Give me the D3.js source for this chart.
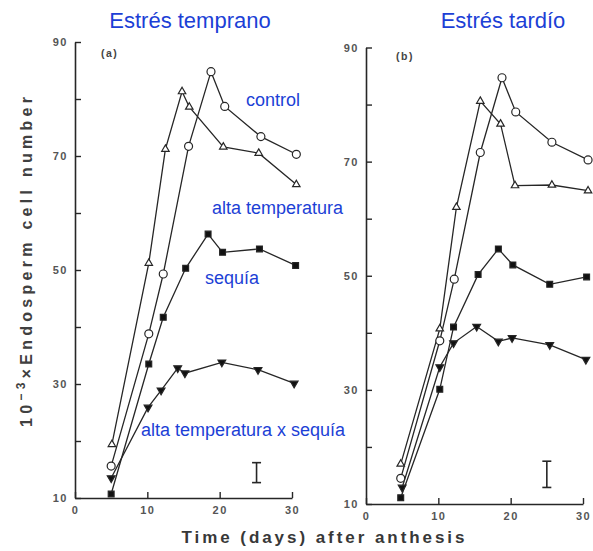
<!DOCTYPE html>
<html>
<head>
<meta charset="utf-8">
<script src="https://cdn.jsdelivr.net/npm/d3@7"></script>
<style>
  html, body { margin: 0; padding: 0; background: #fff; }
  svg { display: block; }
  .tick text { font-family: "Liberation Sans", Arial, sans-serif; font-weight: bold; font-size: 11px; fill: #555; letter-spacing: 1.5px; }
</style>
</head>
<body>
<svg id="chart" width="593" height="551"></svg>
<script>
// Days after anthesis and endosperm cell numbers (x10^3) per treatment.
// Panel (a): early stress; panel (b): late stress.
const dayTicks = [0, 10, 20, 30];
const valueTicks = [10, 20, 30, 40, 50, 60, 70, 80, 90];
const valueLabels = [10, 30, 50, 70, 90];

const earlyControl  = [[5, 15.6], [10.2, 38.8], [12.2, 49.3], [15.7, 71.7], [18.8, 84.8], [20.7, 78.7], [25.7, 73.4], [30.6, 70.3]];
const earlyHeat     = [[5.1, 19.4], [10.2, 51.2], [12.5, 71.2], [14.8, 81.3], [15.8, 78.6], [20.5, 71.6], [25.4, 70.5], [30.6, 65.0]];
const earlyDrought  = [[5, 10.7], [10.2, 33.5], [12.2, 41.7], [15.3, 50.3], [18.4, 56.3], [20.4, 53.1], [25.5, 53.7], [30.5, 50.8]];
const earlyBoth     = [[5, 13.5], [10.1, 25.9], [11.9, 28.9], [14.2, 32.8], [15.2, 31.9], [20.3, 33.8], [25.3, 32.5], [30.3, 30.1]];

const lateControl   = [[4.8, 14.5], [10.2, 38.6], [12.2, 49.4], [15.8, 71.6], [18.8, 84.7], [20.7, 78.7], [25.7, 73.4], [30.7, 70.3]];
const lateHeat      = [[4.8, 17.0], [10.2, 40.7], [12.5, 62.0], [15.8, 80.6], [18.6, 76.6], [20.6, 65.8], [25.7, 65.9], [30.7, 64.9]];
const lateDrought   = [[4.8, 11.1], [10.2, 30.1], [12.1, 41.0], [15.5, 50.2], [18.3, 54.7], [20.3, 51.9], [25.4, 48.5], [30.5, 49.8]];
const lateBoth      = [[5, 12.9], [10.2, 34.0], [12.1, 38.2], [15.3, 41.1], [18.3, 38.5], [20.2, 39.1], [25.4, 37.9], [30.4, 35.3]];

// LSD bars: [day, low, high]
const earlyLsd = [25.1, 12.7, 16.2];
const lateLsd  = [25.0, 12.9, 17.5];

const panelTitles = ["Estrés temprano", "Estrés tardío"];
const panelTags = ["(a)", "(b)"];
const treatmentNames = ["control", "alta temperatura", "sequía", "alta temperatura x sequía"];

const blue = "#1c3fd6";
const ink = "#262626";
const svg = d3.select("#chart");
svg.append("rect").attr("width", 593).attr("height", 551).attr("fill", "#fff");

const panels = [
  { x: [75, 292], y: [498, 42], series: [earlyControl, earlyHeat, earlyDrought, earlyBoth], lsd: earlyLsd,
    title: panelTitles[0], titleX: 190, tag: panelTags[0], tagPos: [101, 57] },
  { x: [366, 583], y: [504, 47.5], series: [lateControl, lateHeat, lateDrought, lateBoth], lsd: lateLsd,
    title: panelTitles[1], titleX: 503, tag: panelTags[1], tagPos: [396, 60] }
];

// marker styles per treatment: circle (open), triangle (open), square (filled), inverted triangle (filled)
const markers = [
  { type: d3.symbolCircle, size: 50, fill: "#fff", rot: 0 },
  { type: d3.symbolTriangle, size: 24, fill: "#fff", rot: 0 },
  { type: d3.symbolSquare, size: 34, fill: "#111", rot: 0 },
  { type: d3.symbolTriangle, size: 26, fill: "#111", rot: 180 }
];

panels.forEach(p => {
  const x = d3.scaleLinear().domain([0, 30]).range(p.x);
  const y = d3.scaleLinear().domain([10, 90]).range(p.y);
  const g = svg.append("g");

  // y axis, ticks pointing inward
  const yAxis = d3.axisLeft(y).tickValues(valueTicks).tickSizeInner(-6).tickSizeOuter(0).tickPadding(7)
    .tickFormat(d => valueLabels.includes(d) ? d : "");
  const ya = g.append("g").attr("transform", `translate(${x(0)},0)`).call(yAxis);
  ya.select(".domain").attr("stroke", ink).attr("stroke-width", 1.6);
  ya.selectAll(".tick line").attr("stroke", ink).attr("stroke-width", 1.4);

  // x axis, ticks pointing upward
  const xAxis = d3.axisBottom(x).tickValues(dayTicks).tickSizeInner(-6).tickSizeOuter(0).tickPadding(8);
  const xa = g.append("g").attr("transform", `translate(0,${y(10)})`).call(xAxis);
  xa.select(".domain").attr("stroke", ink).attr("stroke-width", 1.6);
  xa.selectAll(".tick line").attr("stroke", ink).attr("stroke-width", 1.4);

  const line = d3.line().x(d => x(d[0])).y(d => y(d[1]));
  p.series.forEach(s => {
    g.append("path").datum(s).attr("d", line)
      .attr("fill", "none").attr("stroke", ink).attr("stroke-width", 1.3);
  });
  p.series.forEach((s, i) => {
    const m = markers[i];
    const sym = d3.symbol().type(m.type).size(m.size);
    g.selectAll(null).data(s).join("path")
      .attr("d", sym)
      .attr("transform", d => `translate(${x(d[0])},${y(d[1])}) rotate(${m.rot})`)
      .attr("fill", m.fill).attr("stroke", ink).attr("stroke-width", 1.2);
  });

  // LSD bar
  const [ld, lo, hi] = p.lsd;
  const lx = x(ld);
  g.append("line").attr("x1", lx).attr("x2", lx).attr("y1", y(lo)).attr("y2", y(hi))
    .attr("stroke", ink).attr("stroke-width", 1.6);
  [lo, hi].forEach(v => g.append("line").attr("x1", lx - 4.5).attr("x2", lx + 4.5).attr("y1", y(v)).attr("y2", y(v))
    .attr("stroke", ink).attr("stroke-width", 1.6));

  // panel tag
  g.append("text").attr("x", p.tagPos[0]).attr("y", p.tagPos[1]).text(p.tag)
    .attr("font-family", "Liberation Sans, Arial, sans-serif").attr("font-weight", "bold")
    .attr("font-size", 10.5).attr("letter-spacing", "1.5px").attr("fill", "#444");

  // panel title
  g.append("text").attr("x", p.titleX).attr("y", 28).attr("text-anchor", "middle").text(p.title)
    .attr("font-family", "Liberation Sans, Arial, sans-serif").attr("font-size", 22).attr("fill", blue);
});

// treatment labels in panel (a)
const labelPos = [[246, 106], [212, 214], [205, 284], [141, 436]];
treatmentNames.forEach((t, i) => {
  svg.append("text").attr("x", labelPos[i][0]).attr("y", labelPos[i][1]).text(t)
    .attr("font-family", "Liberation Sans, Arial, sans-serif").attr("font-size", 18).attr("fill", blue);
});

// axis titles
const yTitle = svg.append("text")
  .attr("transform", "translate(32,262) rotate(-90)")
  .attr("text-anchor", "middle")
  .attr("font-family", "Liberation Sans, Arial, sans-serif").attr("font-weight", "bold")
  .attr("font-size", 16).attr("fill", "#404040");
yTitle.append("tspan").text("10");
yTitle.append("tspan").attr("dy", -7).attr("font-size", 12).text("−3");
yTitle.append("tspan").attr("dy", 7).text("×Endosperm cell number");
yTitle.attr("textLength", 330).attr("lengthAdjust", "spacing");

svg.append("text").attr("x", 323).attr("y", 543).attr("text-anchor", "middle")
  .attr("font-family", "Liberation Sans, Arial, sans-serif").attr("font-weight", "bold")
  .attr("font-size", 17).attr("fill", "#383838")
  .attr("textLength", 283).attr("lengthAdjust", "spacing")
  .text("Time (days) after anthesis");
</script>
</body>
</html>
